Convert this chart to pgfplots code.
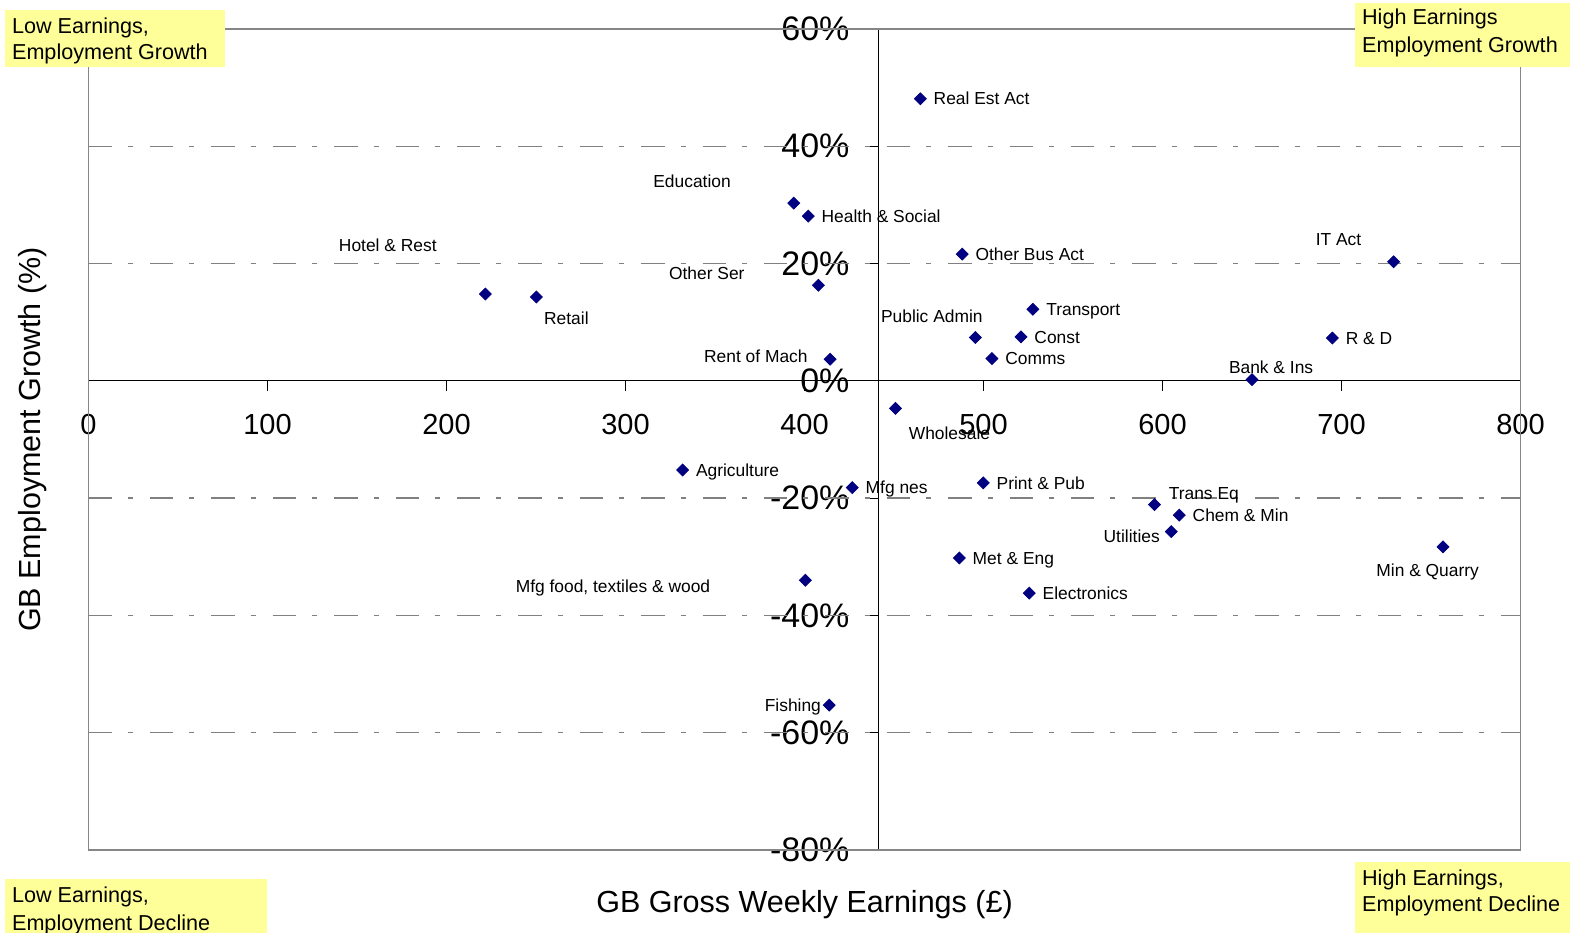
\documentclass[border=0pt]{standalone}
\usepackage{fontspec}
\setmainfont{Liberation Sans}
\usepackage{pgfplots}
\pgfplotsset{compat=1.18}
\usepackage{pgfplotstable}

\definecolor{navymark}{HTML}{000080}
\definecolor{quadfill}{HTML}{FFFF99}
\definecolor{framegray}{HTML}{868686}
\definecolor{gridgray}{HTML}{808080}

% Sector: weekly earnings (GBP), employment growth (%),
% label offset (pt) from the marker to the left edge of its text
\pgfplotstableread[col sep=semicolon]{
x;y;label;dx;dy
464.7;48.1;Real Est Act;6.5;0
394.0;30.3;Education;-70.4;10.9
402.1;28.1;Health \& Social;6.5;0
488.1;21.6;Other Bus Act;6.5;0
729.1;20.3;IT Act;-39.1;11.4
221.7;14.8;Hotel \& Rest;-73.4;24.2
250.2;14.3;Retail;3.7;-10.9
407.8;16.3;Other Ser;-74.9;6
527.6;12.2;Transport;6.5;0
495.5;7.4;Public Admin;-47.4;10.8
521.0;7.5;Const;6.5;0
694.9;7.3;R \& D;6.5;0
414.3;3.7;Rent of Mach;-63.2;1.2
504.7;3.8;Comms;6.5;0
650.0;0.2;Bank \& Ins;-11.7;6
450.8;-4.7;Wholesale;6.5;-12.4
331.9;-15.2;Agriculture;6.5;0
426.7;-18.2;Mfg nes;6.5;0
499.9;-17.4;Print \& Pub;6.5;0
595.5;-21.1;Trans Eq;7;5.5
609.4;-22.9;Chem \& Min;6.5;0
604.9;-25.7;Utilities;-34;-2.5
486.5;-30.2;Met \& Eng;6.5;0
756.7;-28.3;Min \& Quarry;-33.5;-11.5
400.5;-34.0;Mfg food, textiles \& wood;-145;-3
525.6;-36.2;Electronics;6.5;0
413.8;-55.3;Fishing;-32.4;0
}\sectors

\begin{document}
\begin{tikzpicture}[
  quad/.style={font=\fontsize{10.8}{13}\selectfont, inner sep=0pt,
               text height=7.7pt, text depth=0pt, anchor=west}]
\begin{axis}[
  name=ax,
  scale only axis, width=716pt, height=410.5pt,
  xmin=0, xmax=800, ymin=-80, ymax=60,
  axis x line*=middle,
  axis y line*=left,
  axis y line shift=-395pt,
  hide obscured x ticks=false, hide obscured y ticks=false,
  xtick={0,100,...,800},
  xticklabels={0,100,200,300,400,500,600,700,800},
  ytick={-80,-60,...,60},
  yticklabels={-80\%,-60\%,-40\%,-20\%,0\%,20\%,40\%,60\%},
  tick align=outside, major tick length=5pt,
  tick style={black, line width=0.5pt},
  axis line style={-, black, line width=0.6pt},
  % dash-dot gridlines away from the zero line
  extra y ticks={-60,-40,-20,20,40},
  extra y tick labels={},
  extra y tick style={grid=major, major tick length=0pt},
  y grid style={gridgray, line width=0.75pt,
                dash pattern=on 11.7pt off 8pt on 2.5pt off 8.5pt},
  xticklabel style={font=\fontsize{14.5}{16}\selectfont, anchor=north, yshift=-8pt},
  yticklabel style={font=\fontsize{17}{19}\selectfont, anchor=east, xshift=-6pt},
]
\addplot[only marks, mark=square*, mark size=2.1pt,
  mark options={rotate=45, draw=navymark, fill=navymark},
  nodes near coords, point meta=explicit symbolic,
  visualization depends on={\thisrow{dx}\as\dx},
  visualization depends on={\thisrow{dy}\as\dy},
  nodes near coords style={anchor=west, xshift=\dx pt, yshift=\dy pt,
    font=\fontsize{8.7}{10}\selectfont, inner sep=0pt,
    text height=6.2pt, text depth=0pt, text=black},
] table[x=x, y=y, meta=label] {\sectors};
\end{axis}

\draw[framegray, line width=0.75pt] (ax.south west) rectangle (ax.north east);

\begin{scope}[shift={(ax.south west)}]
  % axis titles
  \node[font=\fontsize{15.25}{17}\selectfont, inner sep=0pt, text height=10.9pt, text depth=0pt]
    at (358pt,-25.8pt) {GB Gross Weekly Earnings (£)};
  \node[rotate=90, font=\fontsize{15.25}{17}\selectfont, inner sep=0pt, text height=10.9pt, text depth=0pt]
    at (-29.5pt,205.25pt) {GB Employment Growth (\%)};
  % quadrant captions
  \fill[quadfill] (-41.75pt,391.5pt) rectangle (68.25pt,420pt);
  \node[quad] at (-38.4pt,412.2pt) {Low Earnings,};
  \node[quad] at (-38.4pt,399.3pt) {Employment Growth};
  \fill[quadfill] (633.25pt,391.7pt) rectangle (741pt,423.5pt);
  \node[quad] at (636.6pt,416.4pt) {High Earnings};
  \node[quad] at (636.6pt,402.75pt) {Employment Growth};
  \fill[quadfill] (-41.75pt,-14.5pt) rectangle (89.25pt,-45pt);
  \node[quad] at (-38.4pt,-22.25pt) {Low Earnings,};
  \node[quad] at (-38.4pt,-36.25pt) {Employment Decline};
  \fill[quadfill] (633.25pt,-5.8pt) rectangle (741pt,-45pt);
  \node[quad] at (636.6pt,-13.8pt) {High Earnings,};
  \node[quad] at (636.6pt,-27pt) {Employment Decline};
\end{scope}

\pgfresetboundingbox
\path[use as bounding box] ([shift={(-44.25pt,-41pt)}]ax.south west)
  rectangle ([shift={(24.75pt,14.5pt)}]ax.north east);
\end{tikzpicture}
\end{document}
